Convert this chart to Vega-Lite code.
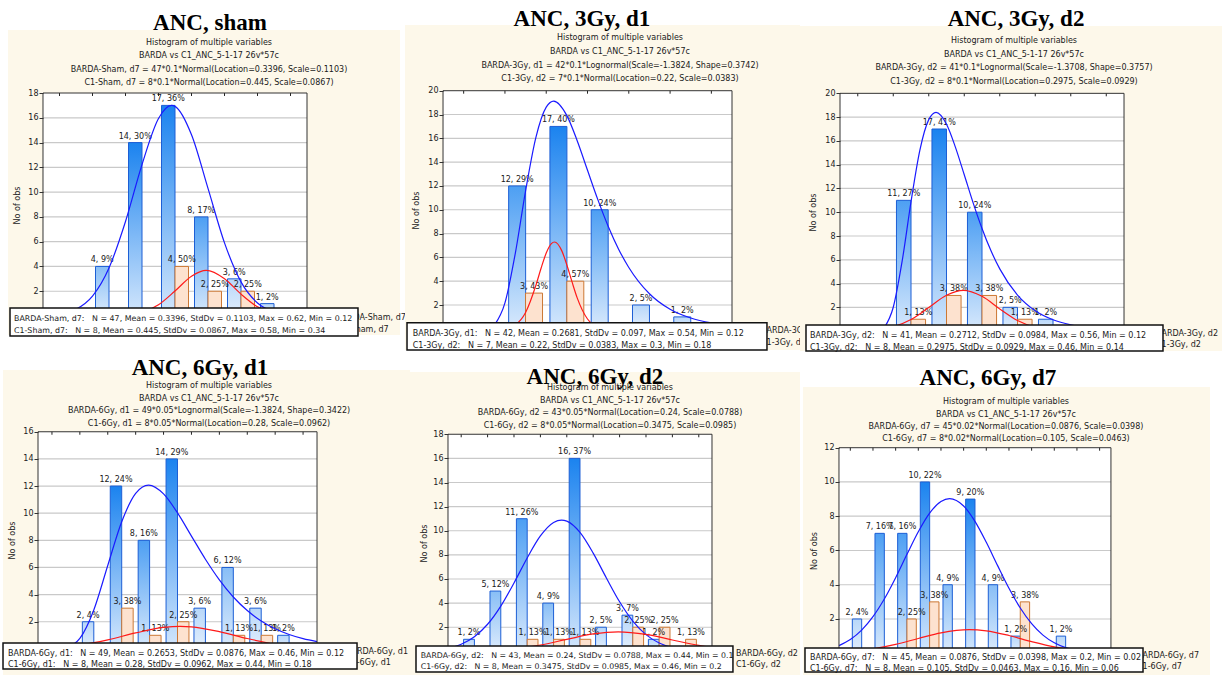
{
"$schema": "https://vega.github.io/schema/vega-lite/v6.json",
"padding": 0,
"background": "white",
"config": {
  "view": {"stroke": null},
  "axisX": {"disable": true},
  "axisY": {"grid": false, "domain": false, "ticks": true, "tickSize": 4, "tickColor": "#333333", "labelFont": "DejaVu Sans", "labelFontSize": 8, "labelColor": "#222222", "labelPadding": 1, "labelOverlap": false, "titleFont": "DejaVu Sans", "titleFontSize": 8, "titleFontWeight": "normal", "titleColor": "#222222", "titleAngle": -90, "titleAlign": "center", "titleBaseline": "middle"},
  "text": {"font": "DejaVu Sans", "fontSize": 8, "color": "#1a1a1a"}
},
"datasets": {
  "grid16": [{"v":2},{"v":4},{"v":6},{"v":8},{"v":10},{"v":12},{"v":14},{"v":16}],
  "grid18": [{"v":2},{"v":4},{"v":6},{"v":8},{"v":10},{"v":12},{"v":14},{"v":16},{"v":18}],
  "grid14": [{"v":2},{"v":4},{"v":6},{"v":8},{"v":10},{"v":12},{"v":14}],
  "grid10": [{"v":2},{"v":4},{"v":6},{"v":8},{"v":10}],
  "edges_p1": [{"e":0},{"e":0.1},{"e":0.2},{"e":0.3},{"e":0.4},{"e":0.5},{"e":0.6},{"e":0.7}],
  "edges_p2": [{"e":0},{"e":0.1},{"e":0.2},{"e":0.3},{"e":0.4},{"e":0.5},{"e":0.6}],
  "edges_p4": [{"e":0.05},{"e":0.1},{"e":0.15},{"e":0.2},{"e":0.25},{"e":0.3},{"e":0.35},{"e":0.4},{"e":0.45},{"e":0.5}],
  "edges_p6": [{"e":0},{"e":0.02},{"e":0.04},{"e":0.06},{"e":0.08},{"e":0.1},{"e":0.12},{"e":0.14},{"e":0.16},{"e":0.18},{"e":0.2},{"e":0.22}],
  "p1_barda": [{"lo":0.1,"hi":0.2,"n":4,"label":"4, 9%"},{"lo":0.2,"hi":0.3,"n":14,"label":"14, 30%"},{"lo":0.3,"hi":0.4,"n":17,"label":"17, 36%"},{"lo":0.4,"hi":0.5,"n":8,"label":"8, 17%"},{"lo":0.5,"hi":0.6,"n":3,"label":"3, 6%"},{"lo":0.6,"hi":0.7,"n":1,"label":"1, 2%"}],
  "p1_c1": [{"lo":0.3,"hi":0.4,"n":4,"label":"4, 50%"},{"lo":0.4,"hi":0.5,"n":2,"label":"2, 25%"},{"lo":0.5,"hi":0.6,"n":2,"label":"2, 25%"}],
  "p1_blue": [{"x":-0.05,"y":0.033},{"x":0,"y":0.149},{"x":0.05,"y":0.541},{"x":0.1,"y":1.607},{"x":0.15,"y":3.88},{"x":0.2,"y":7.63},{"x":0.25,"y":12.22},{"x":0.3,"y":15.94},{"x":0.3396,"y":17.0},{"x":0.35,"y":16.92},{"x":0.4,"y":14.63},{"x":0.45,"y":10.3},{"x":0.5,"y":5.906},{"x":0.55,"y":2.757},{"x":0.6,"y":1.048},{"x":0.65,"y":0.324},{"x":0.7,"y":0.082},{"x":0.75,"y":0.017}],
  "p1_red": [{"x":0.2,"y":0.068},{"x":0.25,"y":0.293},{"x":0.3,"y":0.909},{"x":0.35,"y":2.02},{"x":0.4,"y":3.217},{"x":0.445,"y":3.681},{"x":0.5,"y":3.01},{"x":0.55,"y":1.768},{"x":0.6,"y":0.745},{"x":0.65,"y":0.225},{"x":0.7,"y":0.049}],
  "p2_barda": [{"lo":0.1,"hi":0.2,"n":12,"label":"12, 29%"},{"lo":0.2,"hi":0.3,"n":17,"label":"17, 40%"},{"lo":0.3,"hi":0.4,"n":10,"label":"10, 24%"},{"lo":0.4,"hi":0.5,"n":2,"label":"2, 5%"},{"lo":0.5,"hi":0.6,"n":1,"label":"1, 2%"}],
  "p2_c1": [{"lo":0.1,"hi":0.2,"n":3,"label":"3, 43%"},{"lo":0.2,"hi":0.3,"n":4,"label":"4, 57%"}],
  "p2_blue": [{"x":0.075,"y":0.326},{"x":0.1,"y":2.178},{"x":0.125,"y":6.32},{"x":0.15,"y":11.59},{"x":0.175,"y":16.08},{"x":0.2,"y":18.62},{"x":0.2182,"y":19.13},{"x":0.25,"y":17.91},{"x":0.275,"y":15.8},{"x":0.3,"y":13.32},{"x":0.325,"y":10.85},{"x":0.35,"y":8.62},{"x":0.375,"y":6.71},{"x":0.4,"y":5.154},{"x":0.45,"y":2.945},{"x":0.5,"y":1.641},{"x":0.55,"y":0.904},{"x":0.6,"y":0.495},{"x":0.65,"y":0.271}],
  "p2_red": [{"x":0.1,"y":0.054},{"x":0.125,"y":0.336},{"x":0.15,"y":1.372},{"x":0.175,"y":3.655},{"x":0.1875,"y":5.086},{"x":0.2,"y":6.361},{"x":0.2125,"y":7.152},{"x":0.22,"y":7.29},{"x":0.2375,"y":6.568},{"x":0.25,"y":5.364},{"x":0.2625,"y":3.939},{"x":0.275,"y":2.6},{"x":0.3,"y":0.823},{"x":0.325,"y":0.17},{"x":0.35,"y":0.023}],
  "p3_barda": [{"lo":0.1,"hi":0.2,"n":11,"label":"11, 27%"},{"lo":0.2,"hi":0.3,"n":17,"label":"17, 41%"},{"lo":0.3,"hi":0.4,"n":10,"label":"10, 24%"},{"lo":0.4,"hi":0.5,"n":2,"label":"2, 5%"},{"lo":0.5,"hi":0.6,"n":1,"label":"1, 2%"}],
  "p3_c1": [{"lo":0.1,"hi":0.2,"n":1,"label":"1, 13%"},{"lo":0.2,"hi":0.3,"n":3,"label":"3, 38%"},{"lo":0.3,"hi":0.4,"n":3,"label":"3, 38%"},{"lo":0.4,"hi":0.5,"n":1,"label":"1, 13%"}],
  "p3_blue": [{"x":0.075,"y":0.299},{"x":0.1,"y":2.01},{"x":0.125,"y":5.883},{"x":0.15,"y":10.88},{"x":0.175,"y":15.23},{"x":0.2,"y":17.79},{"x":0.2205,"y":18.4},{"x":0.25,"y":17.4},{"x":0.275,"y":15.48},{"x":0.3,"y":13.15},{"x":0.325,"y":10.79},{"x":0.35,"y":8.635},{"x":0.375,"y":6.773},{"x":0.4,"y":5.236},{"x":0.45,"y":3.032},{"x":0.5,"y":1.711},{"x":0.55,"y":0.953},{"x":0.6,"y":0.528},{"x":0.65,"y":0.293},{"x":0.7,"y":0.163},{"x":0.75,"y":0.091}],
  "p3_red": [{"x":0,"y":0.02},{"x":0.05,"y":0.099},{"x":0.1,"y":0.359},{"x":0.15,"y":0.974},{"x":0.2,"y":1.98},{"x":0.25,"y":3.014},{"x":0.2975,"y":3.435},{"x":0.35,"y":2.928},{"x":0.4,"y":1.869},{"x":0.45,"y":0.893},{"x":0.5,"y":0.319},{"x":0.55,"y":0.085},{"x":0.6,"y":0.017}],
  "p4_barda": [{"lo":0.1,"hi":0.15,"n":2,"label":"2, 4%"},{"lo":0.15,"hi":0.2,"n":12,"label":"12, 24%"},{"lo":0.2,"hi":0.25,"n":8,"label":"8, 16%"},{"lo":0.25,"hi":0.3,"n":14,"label":"14, 29%"},{"lo":0.3,"hi":0.35,"n":3,"label":"3, 6%"},{"lo":0.35,"hi":0.4,"n":6,"label":"6, 12%"},{"lo":0.4,"hi":0.45,"n":3,"label":"3, 6%"},{"lo":0.45,"hi":0.5,"n":1,"label":"1, 2%"}],
  "p4_c1": [{"lo":0.15,"hi":0.2,"n":3,"label":"3, 38%"},{"lo":0.2,"hi":0.25,"n":1,"label":"1, 13%"},{"lo":0.25,"hi":0.3,"n":2,"label":"2, 25%"},{"lo":0.35,"hi":0.4,"n":1,"label":"1, 13%"},{"lo":0.4,"hi":0.45,"n":1,"label":"1, 13%"}],
  "p4_blue": [{"x":0.075,"y":0.075},{"x":0.1,"y":0.768},{"x":0.125,"y":2.87},{"x":0.15,"y":6.145},{"x":0.175,"y":9.368},{"x":0.2,"y":11.46},{"x":0.2232,"y":12.07},{"x":0.25,"y":11.42},{"x":0.275,"y":10.02},{"x":0.3,"y":8.311},{"x":0.325,"y":6.607},{"x":0.35,"y":5.089},{"x":0.375,"y":3.825},{"x":0.4,"y":2.824},{"x":0.425,"y":2.056},{"x":0.45,"y":1.48},{"x":0.475,"y":1.058},{"x":0.5,"y":0.751},{"x":0.525,"y":0.532}],
  "p4_red": [{"x":0.025,"y":0.049},{"x":0.05,"y":0.095},{"x":0.1,"y":0.288},{"x":0.15,"y":0.666},{"x":0.2,"y":1.174},{"x":0.25,"y":1.58},{"x":0.28,"y":1.659},{"x":0.3,"y":1.624},{"x":0.35,"y":1.273},{"x":0.4,"y":0.762},{"x":0.45,"y":0.348},{"x":0.5,"y":0.121},{"x":0.525,"y":0.065}],
  "p5_barda": [{"lo":0.05,"hi":0.1,"n":1,"label":"1, 2%"},{"lo":0.1,"hi":0.15,"n":5,"label":"5, 12%"},{"lo":0.15,"hi":0.2,"n":11,"label":"11, 26%"},{"lo":0.2,"hi":0.25,"n":4,"label":"4, 9%"},{"lo":0.25,"hi":0.3,"n":16,"label":"16, 37%"},{"lo":0.3,"hi":0.35,"n":2,"label":"2, 5%"},{"lo":0.35,"hi":0.4,"n":3,"label":"3, 7%"},{"lo":0.4,"hi":0.45,"n":1,"label":"1, 2%"}],
  "p5_c1": [{"lo":0.15,"hi":0.2,"n":1,"label":"1, 13%"},{"lo":0.2,"hi":0.25,"n":1,"label":"1, 13%"},{"lo":0.25,"hi":0.3,"n":1,"label":"1, 13%"},{"lo":0.35,"hi":0.4,"n":2,"label":"2, 25%"},{"lo":0.4,"hi":0.45,"n":2,"label":"2, 25%"},{"lo":0.45,"hi":0.5,"n":1,"label":"1, 13%"}],
  "p5_blue": [{"x":0.025,"y":0.263},{"x":0.05,"y":0.595},{"x":0.075,"y":1.216},{"x":0.1,"y":2.247},{"x":0.125,"y":3.753},{"x":0.15,"y":5.67},{"x":0.175,"y":7.746},{"x":0.2,"y":9.569},{"x":0.225,"y":10.689},{"x":0.24,"y":10.885},{"x":0.25,"y":10.798},{"x":0.275,"y":9.863},{"x":0.3,"y":8.146},{"x":0.325,"y":6.084},{"x":0.35,"y":4.109},{"x":0.375,"y":2.509},{"x":0.4,"y":1.386},{"x":0.425,"y":0.692},{"x":0.45,"y":0.312},{"x":0.475,"y":0.128},{"x":0.5,"y":0.047},{"x":0.525,"y":0.016}],
  "p5_red": [{"x":0.025,"y":0.008},{"x":0.05,"y":0.017},{"x":0.1,"y":0.069},{"x":0.15,"y":0.217},{"x":0.2,"y":0.528},{"x":0.25,"y":0.993},{"x":0.3,"y":1.442},{"x":0.3475,"y":1.62},{"x":0.4,"y":1.406},{"x":0.45,"y":0.943},{"x":0.5,"y":0.489},{"x":0.525,"y":0.319}],
  "p6_barda": [{"lo":0,"hi":0.02,"n":2,"label":"2, 4%"},{"lo":0.02,"hi":0.04,"n":7,"label":"7, 16%"},{"lo":0.04,"hi":0.06,"n":7,"label":"7, 16%"},{"lo":0.06,"hi":0.08,"n":10,"label":"10, 22%"},{"lo":0.08,"hi":0.1,"n":4,"label":"4, 9%"},{"lo":0.1,"hi":0.12,"n":9,"label":"9, 20%"},{"lo":0.12,"hi":0.14,"n":4,"label":"4, 9%"},{"lo":0.14,"hi":0.16,"n":1,"label":"1, 2%"},{"lo":0.18,"hi":0.2,"n":1,"label":"1, 2%"}],
  "p6_c1": [{"lo":0.04,"hi":0.06,"n":2,"label":"2, 25%"},{"lo":0.06,"hi":0.08,"n":3,"label":"3, 38%"},{"lo":0.14,"hi":0.16,"n":3,"label":"3, 38%"}],
  "p6_blue": [{"x":-0.01,"y":0.446},{"x":0,"y":0.801},{"x":0.01,"y":1.349},{"x":0.02,"y":2.133},{"x":0.03,"y":3.166},{"x":0.04,"y":4.413},{"x":0.05,"y":5.775},{"x":0.06,"y":7.094},{"x":0.07,"y":8.182},{"x":0.08,"y":8.859},{"x":0.0876,"y":9.022},{"x":0.1,"y":8.594},{"x":0.11,"y":7.7},{"x":0.12,"y":6.477},{"x":0.13,"y":5.116},{"x":0.14,"y":3.792},{"x":0.15,"y":2.64},{"x":0.16,"y":1.725},{"x":0.17,"y":1.058},{"x":0.18,"y":0.609},{"x":0.19,"y":0.329},{"x":0.2,"y":0.167},{"x":0.21,"y":0.08},{"x":0.22,"y":0.036},{"x":0.23,"y":0.015}],
  "p6_red": [{"x":-0.01,"y":0.063},{"x":0,"y":0.105},{"x":0.02,"y":0.256},{"x":0.04,"y":0.515},{"x":0.06,"y":0.86},{"x":0.08,"y":1.192},{"x":0.105,"y":1.379},{"x":0.12,"y":1.308},{"x":0.14,"y":1.036},{"x":0.16,"y":0.681},{"x":0.18,"y":0.371},{"x":0.2,"y":0.168},{"x":0.22,"y":0.063},{"x":0.23,"y":0.036}]
},
"columns": 3,
"spacing": 0,
"bounds": "flush",
"concat": [
{
"width": 400, "height": 335,
"layer": [
 {"data": {"values": [{}]}, "mark": {"type": "rect", "fill": "#fdf8ea"},
  "encoding": {"x": {"datum": -0.156, "type": "quantitative", "scale": {"domain": [-0.1803, 1.0318], "nice": false, "zero": false}}, "x2": {"datum": 1.0318},
   "y": {"datum": -1.533, "type": "quantitative", "scale": {"domain": [-1.533, 25.507], "nice": false, "zero": false}, "axis": {"values": [2,4,6,8,10,12,14,16,18], "tickCount": 20, "labelOverlap": false, "offset": -43, "zindex": 2, "title": "No of obs", "titleX": -26, "titleY": 205}}, "y2": {"datum": 23.086}}},
 {"data": {"values": [{}]}, "mark": {"type": "rect", "fill": "#ffffff"},
  "encoding": {"x": {"datum": -0.05, "type": "quantitative"}, "x2": {"datum": 0.75}, "y": {"datum": 0, "type": "quantitative"}, "y2": {"datum": 18}}},
 {"data": {"name": "grid16"}, "mark": {"type": "rule", "stroke": "#c9c9c9", "strokeWidth": 1.2},
  "encoding": {"x": {"datum": -0.05, "type": "quantitative"}, "x2": {"datum": 0.75}, "y": {"field": "v", "type": "quantitative"}}},
 {"data": {"name": "edges_p1"}, "mark": {"type": "rule", "stroke": "#222222", "strokeWidth": 1},
  "encoding": {"x": {"field": "e", "type": "quantitative"}, "y": {"datum": 18, "type": "quantitative"}, "y2": {"datum": 17.76}}},
 {"data": {"name": "p1_barda"}, "mark": {"type": "rect", "stroke": "#1d5fd5", "strokeWidth": 1, "xOffset": 3, "x2Offset": -16.5},
  "encoding": {"x": {"field": "lo", "type": "quantitative"}, "x2": {"field": "hi"}, "y": {"field": "n", "type": "quantitative"}, "y2": {"datum": 0},
   "fill": {"condition": [
     {"test": "datum.n >= 14", "value": {"gradient": "linear", "x1": 0, "y1": 0, "x2": 0, "y2": 1, "stops": [{"offset": 0, "color": "#1b83ef"}, {"offset": 1, "color": "#d4e7fc"}]}},
     {"test": "datum.n >= 8", "value": {"gradient": "linear", "x1": 0, "y1": 0, "x2": 0, "y2": 1, "stops": [{"offset": 0, "color": "#4d9ff3"}, {"offset": 1, "color": "#d8e9fc"}]}},
     {"test": "datum.n >= 4", "value": {"gradient": "linear", "x1": 0, "y1": 0, "x2": 0, "y2": 1, "stops": [{"offset": 0, "color": "#88bef6"}, {"offset": 1, "color": "#dcebfc"}]}}],
    "value": {"gradient": "linear", "x1": 0, "y1": 0, "x2": 0, "y2": 1, "stops": [{"offset": 0, "color": "#b8d7f9"}, {"offset": 1, "color": "#e3effd"}]}}}},
 {"data": {"name": "p1_c1"}, "mark": {"type": "rect", "fill": "#fde2cf", "stroke": "#cc7834", "strokeWidth": 1, "xOffset": 16.5, "x2Offset": -3},
  "encoding": {"x": {"field": "lo", "type": "quantitative"}, "x2": {"field": "hi"}, "y": {"field": "n", "type": "quantitative"}, "y2": {"datum": 0}}},
 {"data": {"name": "p1_barda"}, "mark": {"type": "text", "dx": 9.7, "dy": -2, "baseline": "bottom", "align": "center"},
  "encoding": {"x": {"field": "lo", "type": "quantitative"}, "y": {"field": "n", "type": "quantitative"}, "text": {"field": "label"}}},
 {"data": {"name": "p1_c1"}, "mark": {"type": "text", "dx": 23.3, "dy": -2, "baseline": "bottom", "align": "center"},
  "encoding": {"x": {"field": "lo", "type": "quantitative"}, "y": {"field": "n", "type": "quantitative"}, "text": {"field": "label"}}},
 {"data": {"name": "p1_blue"}, "mark": {"type": "line", "interpolate": "monotone", "stroke": "#1a1aff", "strokeWidth": 1.2},
  "encoding": {"x": {"field": "x", "type": "quantitative"}, "y": {"field": "y", "type": "quantitative"}}},
 {"data": {"name": "p1_red"}, "mark": {"type": "line", "interpolate": "monotone", "stroke": "#ff1a1a", "strokeWidth": 1.2},
  "encoding": {"x": {"field": "x", "type": "quantitative"}, "y": {"field": "y", "type": "quantitative"}}},
 {"data": {"values": [{}]}, "mark": {"type": "rect", "fill": "#ffffff", "fillOpacity": 0, "stroke": "#333333", "strokeWidth": 1},
  "encoding": {"x": {"datum": -0.05, "type": "quantitative"}, "x2": {"datum": 0.75}, "y": {"datum": 0, "type": "quantitative"}, "y2": {"datum": 18}}},
 {"data": {"values": [{}]}, "mark": {"type": "text", "align": "left", "lineHeight": 12},
  "encoding": {"x": {"datum": 0.8409, "type": "quantitative"}, "y": {"datum": -0.161, "type": "quantitative"}, "text": {"value": ["BARDA-Sham, d7", "C1-Sham, d7"]}}},
 {"data": {"values": [{}]}, "mark": {"type": "rect", "fill": "#ffffff", "stroke": "#111111", "strokeWidth": 1.5},
  "encoding": {"x": {"datum": -0.15, "type": "quantitative"}, "x2": {"datum": 0.9045}, "y": {"datum": 0.646, "type": "quantitative"}, "y2": {"datum": -1.614}}},
 {"data": {"values": [{}]}, "mark": {"type": "text", "align": "left", "fontSize": 7.9, "lineHeight": 12},
  "encoding": {"x": {"datum": -0.1379, "type": "quantitative"}, "y": {"datum": -0.242, "type": "quantitative"}, "text": {"value": ["BARDA-Sham, d7:\u00a0\u00a0 N = 47, Mean = 0.3396, StdDv = 0.1103, Max = 0.62, Min = 0.12", "C1-Sham, d7:\u00a0\u00a0 N = 8, Mean = 0.445, StdDv = 0.0867, Max = 0.58, Min = 0.34"]}}},
 {"data": {"values": [{}]}, "mark": {"type": "text", "align": "center", "font": "Liberation Serif", "fontSize": 23, "fontWeight": "bold", "color": "#000000"},
  "encoding": {"x": {"datum": 0.456, "type": "quantitative"}, "y": {"datum": 23.65, "type": "quantitative"}, "text": {"value": "ANC, sham"}}},
 {"data": {"values": [{}]}, "mark": {"type": "text", "align": "center", "lineHeight": 13.3},
  "encoding": {"x": {"datum": 0.453, "type": "quantitative"}, "y": {"datum": 22.03, "type": "quantitative"}, "text": {"value": ["Histogram of multiple variables", "BARDA vs C1_ANC_5-1-17 26v*57c", "BARDA-Sham, d7 = 47*0.1*Normal(Location=0.3396, Scale=0.1103)", "C1-Sham, d7 = 8*0.1*Normal(Location=0.445, Scale=0.0867)"]}}}
]
},
{
"width": 400, "height": 335,
"layer": [
 {"data": {"values": [{}]}, "mark": {"type": "rect", "fill": "#fdf8ea"},
  "encoding": {"x": {"datum": -0.1421, "type": "quantitative", "scale": {"domain": [-0.1542, 0.8147], "nice": false, "zero": false}}, "x2": {"datum": 0.8147},
   "y": {"datum": -1.78, "type": "quantitative", "scale": {"domain": [-0.52, 27.62], "nice": false, "zero": false}, "axis": {"values": [2,4,6,8,10,12,14,16,18,20], "tickCount": 20, "labelOverlap": false, "offset": -43, "zindex": 2, "title": "No of obs", "titleX": -26.3, "titleY": 210}}, "y2": {"datum": 25.52}}},
 {"data": {"values": [{}]}, "mark": {"type": "rect", "fill": "#ffffff"},
  "encoding": {"x": {"datum": -0.05, "type": "quantitative"}, "x2": {"datum": 0.65}, "y": {"datum": 0, "type": "quantitative"}, "y2": {"datum": 20}}},
 {"data": {"name": "grid18"}, "mark": {"type": "rule", "stroke": "#c9c9c9", "strokeWidth": 1.2},
  "encoding": {"x": {"datum": -0.05, "type": "quantitative"}, "x2": {"datum": 0.65}, "y": {"field": "v", "type": "quantitative"}}},
 {"data": {"name": "edges_p2"}, "mark": {"type": "rule", "stroke": "#222222", "strokeWidth": 1},
  "encoding": {"x": {"field": "e", "type": "quantitative"}, "y": {"datum": 20, "type": "quantitative"}, "y2": {"datum": 19.75}}},
 {"data": {"name": "p2_barda"}, "mark": {"type": "rect", "stroke": "#1d5fd5", "strokeWidth": 1, "xOffset": 3.7, "x2Offset": -20.6},
  "encoding": {"x": {"field": "lo", "type": "quantitative"}, "x2": {"field": "hi"}, "y": {"field": "n", "type": "quantitative"}, "y2": {"datum": 0},
   "fill": {"condition": [
     {"test": "datum.n >= 14", "value": {"gradient": "linear", "x1": 0, "y1": 0, "x2": 0, "y2": 1, "stops": [{"offset": 0, "color": "#1b83ef"}, {"offset": 1, "color": "#d4e7fc"}]}},
     {"test": "datum.n >= 8", "value": {"gradient": "linear", "x1": 0, "y1": 0, "x2": 0, "y2": 1, "stops": [{"offset": 0, "color": "#4d9ff3"}, {"offset": 1, "color": "#d8e9fc"}]}},
     {"test": "datum.n >= 4", "value": {"gradient": "linear", "x1": 0, "y1": 0, "x2": 0, "y2": 1, "stops": [{"offset": 0, "color": "#88bef6"}, {"offset": 1, "color": "#dcebfc"}]}}],
    "value": {"gradient": "linear", "x1": 0, "y1": 0, "x2": 0, "y2": 1, "stops": [{"offset": 0, "color": "#b8d7f9"}, {"offset": 1, "color": "#e3effd"}]}}}},
 {"data": {"name": "p2_c1"}, "mark": {"type": "rect", "fill": "#fde2cf", "stroke": "#cc7834", "strokeWidth": 1, "xOffset": 20.6, "x2Offset": -3.7},
  "encoding": {"x": {"field": "lo", "type": "quantitative"}, "x2": {"field": "hi"}, "y": {"field": "n", "type": "quantitative"}, "y2": {"datum": 0}}},
 {"data": {"name": "p2_barda"}, "mark": {"type": "text", "dx": 12.2, "dy": -2, "baseline": "bottom", "align": "center"},
  "encoding": {"x": {"field": "lo", "type": "quantitative"}, "y": {"field": "n", "type": "quantitative"}, "text": {"field": "label"}}},
 {"data": {"name": "p2_c1"}, "mark": {"type": "text", "dx": 29.1, "dy": -2, "baseline": "bottom", "align": "center"},
  "encoding": {"x": {"field": "lo", "type": "quantitative"}, "y": {"field": "n", "type": "quantitative"}, "text": {"field": "label"}}},
 {"data": {"name": "p2_blue"}, "mark": {"type": "line", "interpolate": "monotone", "stroke": "#1a1aff", "strokeWidth": 1.2},
  "encoding": {"x": {"field": "x", "type": "quantitative"}, "y": {"field": "y", "type": "quantitative"}}},
 {"data": {"name": "p2_red"}, "mark": {"type": "line", "interpolate": "monotone", "stroke": "#ff1a1a", "strokeWidth": 1.2},
  "encoding": {"x": {"field": "x", "type": "quantitative"}, "y": {"field": "y", "type": "quantitative"}}},
 {"data": {"values": [{}]}, "mark": {"type": "rect", "fill": "#ffffff", "fillOpacity": 0, "stroke": "#333333", "strokeWidth": 1},
  "encoding": {"x": {"datum": -0.05, "type": "quantitative"}, "x2": {"datum": 0.65}, "y": {"datum": 0, "type": "quantitative"}, "y2": {"datum": 20}}},
 {"data": {"values": [{}]}, "mark": {"type": "text", "align": "left", "lineHeight": 12.5},
  "encoding": {"x": {"datum": 0.7202, "type": "quantitative"}, "y": {"datum": -0.18, "type": "quantitative"}, "text": {"value": ["BARDA-3Gy, d1", "C1-3Gy, d2"]}}},
 {"data": {"values": [{}]}, "mark": {"type": "rect", "fill": "#ffffff", "stroke": "#111111", "strokeWidth": 1.5},
  "encoding": {"x": {"datum": -0.1372, "type": "quantitative"}, "x2": {"datum": 0.7347}, "y": {"datum": 0.514, "type": "quantitative"}, "y2": {"datum": -1.78}}},
 {"data": {"values": [{}]}, "mark": {"type": "text", "align": "left", "fontSize": 8, "lineHeight": 11.7},
  "encoding": {"x": {"datum": -0.1234, "type": "quantitative"}, "y": {"datum": -0.435, "type": "quantitative"}, "text": {"value": ["BARDA-3Gy, d1:\u00a0\u00a0 N = 42, Mean = 0.2681, StdDv = 0.097, Max = 0.54, Min = 0.12", "C1-3Gy, d2:\u00a0\u00a0 N = 7, Mean = 0.22, StdDv = 0.0383, Max = 0.3, Min = 0.18"]}}},
 {"data": {"values": [{}]}, "mark": {"type": "text", "align": "center", "font": "Liberation Serif", "fontSize": 23, "fontWeight": "bold", "color": "#000000"},
  "encoding": {"x": {"datum": 0.2866, "type": "quantitative"}, "y": {"datum": 26.066, "type": "quantitative"}, "text": {"value": "ANC, 3Gy, d1"}}},
 {"data": {"values": [{}]}, "mark": {"type": "text", "align": "center", "lineHeight": 13.8},
  "encoding": {"x": {"datum": 0.3787, "type": "quantitative"}, "y": {"datum": 24.42, "type": "quantitative"}, "text": {"value": ["Histogram of multiple variables", "BARDA vs C1_ANC_5-1-17 26v*57c", "BARDA-3Gy, d1 = 42*0.1*Lognormal(Scale=-1.3824, Shape=0.3742)", "C1-3Gy, d2 = 7*0.1*Normal(Location=0.22, Scale=0.0383)"]}}}
]
},
{
"width": 422, "height": 335,
"layer": [
 {"data": {"values": [{}]}, "mark": {"type": "rect", "fill": "#fdf8ea"},
  "encoding": {"x": {"datum": -0.1627, "type": "quantitative", "scale": {"domain": [-0.1627, 1.026], "nice": false, "zero": false}}, "x2": {"datum": 1.026},
   "y": {"datum": -1.67, "type": "quantitative", "scale": {"domain": [-0.325, 27.85], "nice": false, "zero": false}, "axis": {"values": [2,4,6,8,10,12,14,16,18,20], "tickCount": 20, "labelOverlap": false, "offset": -40, "zindex": 2, "title": "No of obs", "titleX": -27, "titleY": 212}}, "y2": {"datum": 25.66}}},
 {"data": {"values": [{}]}, "mark": {"type": "rect", "fill": "#ffffff"},
  "encoding": {"x": {"datum": -0.05, "type": "quantitative"}, "x2": {"datum": 0.75}, "y": {"datum": 0, "type": "quantitative"}, "y2": {"datum": 20}}},
 {"data": {"name": "grid18"}, "mark": {"type": "rule", "stroke": "#c9c9c9", "strokeWidth": 1.2},
  "encoding": {"x": {"datum": -0.05, "type": "quantitative"}, "x2": {"datum": 0.75}, "y": {"field": "v", "type": "quantitative"}}},
 {"data": {"name": "edges_p1"}, "mark": {"type": "rule", "stroke": "#222222", "strokeWidth": 1},
  "encoding": {"x": {"field": "e", "type": "quantitative"}, "y": {"datum": 20, "type": "quantitative"}, "y2": {"datum": 19.75}}},
 {"data": {"name": "p3_barda"}, "mark": {"type": "rect", "stroke": "#1d5fd5", "strokeWidth": 1, "xOffset": 3.2, "x2Offset": -17.75},
  "encoding": {"x": {"field": "lo", "type": "quantitative"}, "x2": {"field": "hi"}, "y": {"field": "n", "type": "quantitative"}, "y2": {"datum": 0},
   "fill": {"condition": [
     {"test": "datum.n >= 14", "value": {"gradient": "linear", "x1": 0, "y1": 0, "x2": 0, "y2": 1, "stops": [{"offset": 0, "color": "#1b83ef"}, {"offset": 1, "color": "#d4e7fc"}]}},
     {"test": "datum.n >= 8", "value": {"gradient": "linear", "x1": 0, "y1": 0, "x2": 0, "y2": 1, "stops": [{"offset": 0, "color": "#4d9ff3"}, {"offset": 1, "color": "#d8e9fc"}]}},
     {"test": "datum.n >= 4", "value": {"gradient": "linear", "x1": 0, "y1": 0, "x2": 0, "y2": 1, "stops": [{"offset": 0, "color": "#88bef6"}, {"offset": 1, "color": "#dcebfc"}]}}],
    "value": {"gradient": "linear", "x1": 0, "y1": 0, "x2": 0, "y2": 1, "stops": [{"offset": 0, "color": "#b8d7f9"}, {"offset": 1, "color": "#e3effd"}]}}}},
 {"data": {"name": "p3_c1"}, "mark": {"type": "rect", "fill": "#fde2cf", "stroke": "#cc7834", "strokeWidth": 1, "xOffset": 17.75, "x2Offset": -3.2},
  "encoding": {"x": {"field": "lo", "type": "quantitative"}, "x2": {"field": "hi"}, "y": {"field": "n", "type": "quantitative"}, "y2": {"datum": 0}}},
 {"data": {"name": "p3_barda"}, "mark": {"type": "text", "dx": 10.5, "dy": -2, "baseline": "bottom", "align": "center"},
  "encoding": {"x": {"field": "lo", "type": "quantitative"}, "y": {"field": "n", "type": "quantitative"}, "text": {"field": "label"}}},
 {"data": {"name": "p3_c1"}, "mark": {"type": "text", "dx": 25.0, "dy": -2, "baseline": "bottom", "align": "center"},
  "encoding": {"x": {"field": "lo", "type": "quantitative"}, "y": {"field": "n", "type": "quantitative"}, "text": {"field": "label"}}},
 {"data": {"name": "p3_blue"}, "mark": {"type": "line", "interpolate": "monotone", "stroke": "#1a1aff", "strokeWidth": 1.2},
  "encoding": {"x": {"field": "x", "type": "quantitative"}, "y": {"field": "y", "type": "quantitative"}}},
 {"data": {"name": "p3_red"}, "mark": {"type": "line", "interpolate": "monotone", "stroke": "#ff1a1a", "strokeWidth": 1.2},
  "encoding": {"x": {"field": "x", "type": "quantitative"}, "y": {"field": "y", "type": "quantitative"}}},
 {"data": {"values": [{}]}, "mark": {"type": "rect", "fill": "#ffffff", "fillOpacity": 0, "stroke": "#333333", "strokeWidth": 1},
  "encoding": {"x": {"datum": -0.05, "type": "quantitative"}, "x2": {"datum": 0.75}, "y": {"datum": 0, "type": "quantitative"}, "y2": {"datum": 20}}},
 {"data": {"values": [{}]}, "mark": {"type": "text", "align": "left", "lineHeight": 11.5},
  "encoding": {"x": {"datum": 0.8401, "type": "quantitative"}, "y": {"datum": -0.24, "type": "quantitative"}, "text": {"value": ["BARDA-3Gy, d2", "C1-3Gy, d2"]}}},
 {"data": {"values": [{}]}, "mark": {"type": "rect", "fill": "#ffffff", "stroke": "#111111", "strokeWidth": 1.5},
  "encoding": {"x": {"datum": -0.1458, "type": "quantitative"}, "x2": {"datum": 0.8598}, "y": {"datum": 0.516, "type": "quantitative"}, "y2": {"datum": -1.67}}},
 {"data": {"values": [{}]}, "mark": {"type": "text", "align": "left", "fontSize": 8, "lineHeight": 12},
  "encoding": {"x": {"datum": -0.1345, "type": "quantitative"}, "y": {"datum": -0.409, "type": "quantitative"}, "text": {"value": ["BARDA-3Gy, d2:\u00a0\u00a0 N = 41, Mean = 0.2712, StdDv = 0.0984, Max = 0.56, Min = 0.12", "C1-3Gy, d2:\u00a0\u00a0 N = 8, Mean = 0.2975, StdDv = 0.0929, Max = 0.46, Min = 0.14"]}}},
 {"data": {"values": [{}]}, "mark": {"type": "text", "align": "center", "font": "Liberation Serif", "fontSize": 23, "fontWeight": "bold", "color": "#000000"},
  "encoding": {"x": {"datum": 0.4458, "type": "quantitative"}, "y": {"datum": 26.294, "type": "quantitative"}, "text": {"value": "ANC, 3Gy, d2"}}},
 {"data": {"values": [{}]}, "mark": {"type": "text", "align": "center", "lineHeight": 13.7},
  "encoding": {"x": {"datum": 0.4401, "type": "quantitative"}, "y": {"datum": 24.4, "type": "quantitative"}, "text": {"value": ["Histogram of multiple variables", "BARDA vs C1_ANC_5-1-17 26v*57c", "BARDA-3Gy, d2 = 41*0.1*Lognormal(Scale=-1.3708, Shape=0.3757)", "C1-3Gy, d2 = 8*0.1*Normal(Location=0.2975, Scale=0.0929)"]}}}
]
},
{
"width": 400, "height": 340,
"layer": [
 {"data": {"values": [{}]}, "mark": {"type": "rect", "fill": "#fdf8ea"},
  "encoding": {"x": {"datum": -0.0377, "type": "quantitative", "scale": {"domain": [-0.0431, 0.6737], "nice": false, "zero": false}}, "x2": {"datum": 0.6917},
   "y": {"datum": -1.925, "type": "quantitative", "scale": {"domain": [-1.925, 23.13], "nice": false, "zero": false}, "axis": {"values": [2,4,6,8,10,12,14,16], "tickCount": 20, "labelOverlap": false, "offset": -38, "zindex": 2, "title": "No of obs", "titleX": -25.3, "titleY": 205}}, "y2": {"datum": 20.551}}},
 {"data": {"values": [{}]}, "mark": {"type": "rect", "fill": "#ffffff"},
  "encoding": {"x": {"datum": 0.025, "type": "quantitative"}, "x2": {"datum": 0.525}, "y": {"datum": 0, "type": "quantitative"}, "y2": {"datum": 16}}},
 {"data": {"name": "grid14"}, "mark": {"type": "rule", "stroke": "#c9c9c9", "strokeWidth": 1.2},
  "encoding": {"x": {"datum": 0.025, "type": "quantitative"}, "x2": {"datum": 0.525}, "y": {"field": "v", "type": "quantitative"}}},
 {"data": {"name": "edges_p4"}, "mark": {"type": "rule", "stroke": "#222222", "strokeWidth": 1},
  "encoding": {"x": {"field": "e", "type": "quantitative"}, "y": {"datum": 16, "type": "quantitative"}, "y2": {"datum": 15.78}}},
 {"data": {"name": "p4_barda"}, "mark": {"type": "rect", "stroke": "#1d5fd5", "strokeWidth": 1, "xOffset": 2.5, "x2Offset": -13.95},
  "encoding": {"x": {"field": "lo", "type": "quantitative"}, "x2": {"field": "hi"}, "y": {"field": "n", "type": "quantitative"}, "y2": {"datum": 0},
   "fill": {"condition": [
     {"test": "datum.n >= 12", "value": {"gradient": "linear", "x1": 0, "y1": 0, "x2": 0, "y2": 1, "stops": [{"offset": 0, "color": "#1b83ef"}, {"offset": 1, "color": "#d4e7fc"}]}},
     {"test": "datum.n >= 7", "value": {"gradient": "linear", "x1": 0, "y1": 0, "x2": 0, "y2": 1, "stops": [{"offset": 0, "color": "#4d9ff3"}, {"offset": 1, "color": "#d8e9fc"}]}},
     {"test": "datum.n >= 4", "value": {"gradient": "linear", "x1": 0, "y1": 0, "x2": 0, "y2": 1, "stops": [{"offset": 0, "color": "#88bef6"}, {"offset": 1, "color": "#dcebfc"}]}}],
    "value": {"gradient": "linear", "x1": 0, "y1": 0, "x2": 0, "y2": 1, "stops": [{"offset": 0, "color": "#b8d7f9"}, {"offset": 1, "color": "#e3effd"}]}}}},
 {"data": {"name": "p4_c1"}, "mark": {"type": "rect", "fill": "#fde2cf", "stroke": "#cc7834", "strokeWidth": 1, "xOffset": 13.95, "x2Offset": -2.5},
  "encoding": {"x": {"field": "lo", "type": "quantitative"}, "x2": {"field": "hi"}, "y": {"field": "n", "type": "quantitative"}, "y2": {"datum": 0}}},
 {"data": {"name": "p4_barda"}, "mark": {"type": "text", "dx": 8.2, "dy": -2, "baseline": "bottom", "align": "center"},
  "encoding": {"x": {"field": "lo", "type": "quantitative"}, "y": {"field": "n", "type": "quantitative"}, "text": {"field": "label"}}},
 {"data": {"name": "p4_c1"}, "mark": {"type": "text", "dx": 19.7, "dy": -2, "baseline": "bottom", "align": "center"},
  "encoding": {"x": {"field": "lo", "type": "quantitative"}, "y": {"field": "n", "type": "quantitative"}, "text": {"field": "label"}}},
 {"data": {"name": "p4_blue"}, "mark": {"type": "line", "interpolate": "monotone", "stroke": "#1a1aff", "strokeWidth": 1.2},
  "encoding": {"x": {"field": "x", "type": "quantitative"}, "y": {"field": "y", "type": "quantitative"}}},
 {"data": {"name": "p4_red"}, "mark": {"type": "line", "interpolate": "monotone", "stroke": "#ff1a1a", "strokeWidth": 1.2},
  "encoding": {"x": {"field": "x", "type": "quantitative"}, "y": {"field": "y", "type": "quantitative"}}},
 {"data": {"values": [{}]}, "mark": {"type": "rect", "fill": "#ffffff", "fillOpacity": 0, "stroke": "#333333", "strokeWidth": 1},
  "encoding": {"x": {"datum": 0.025, "type": "quantitative"}, "x2": {"datum": 0.525}, "y": {"datum": 0, "type": "quantitative"}, "y2": {"datum": 16}}},
 {"data": {"values": [{}]}, "mark": {"type": "text", "align": "left", "lineHeight": 11},
  "encoding": {"x": {"datum": 0.577, "type": "quantitative"}, "y": {"datum": -0.23, "type": "quantitative"}, "text": {"value": ["BARDA-6Gy, d1", "C1-6Gy, d1"]}}},
 {"data": {"values": [{}]}, "mark": {"type": "rect", "fill": "#ffffff", "stroke": "#111111", "strokeWidth": 1.5},
  "encoding": {"x": {"datum": -0.0377, "type": "quantitative"}, "x2": {"datum": 0.5967}, "y": {"datum": 0.433, "type": "quantitative"}, "y2": {"datum": -1.483}}},
 {"data": {"values": [{}]}, "mark": {"type": "text", "align": "left", "fontSize": 8, "lineHeight": 11},
  "encoding": {"x": {"datum": -0.0288, "type": "quantitative"}, "y": {"datum": -0.378, "type": "quantitative"}, "text": {"value": ["BARDA-6Gy, d1:\u00a0\u00a0 N = 49, Mean = 0.2653, StdDv = 0.0876, Max = 0.46, Min = 0.12", "C1-6Gy, d1:\u00a0\u00a0 N = 8, Mean = 0.28, StdDv = 0.0962, Max = 0.44, Min = 0.18"]}}},
 {"data": {"values": [{}]}, "mark": {"type": "text", "align": "center", "font": "Liberation Serif", "fontSize": 23, "fontWeight": "bold", "color": "#000000"},
  "encoding": {"x": {"datum": 0.3153, "type": "quantitative"}, "y": {"datum": 20.698, "type": "quantitative"}, "text": {"value": "ANC, 6Gy, d1"}}},
 {"data": {"values": [{}]}, "mark": {"type": "text", "align": "center", "lineHeight": 12.7},
  "encoding": {"x": {"datum": 0.3315, "type": "quantitative"}, "y": {"datum": 19.372, "type": "quantitative"}, "text": {"value": ["Histogram of multiple variables", "BARDA vs C1_ANC_5-1-17 26v*57c", "BARDA-6Gy, d1 = 49*0.05*Lognormal(Scale=-1.3824, Shape=0.3422)", "C1-6Gy, d1 = 8*0.05*Normal(Location=0.28, Scale=0.0962)"]}}}
]
},
{
"width": 400, "height": 340,
"layer": [
 {"data": {"values": [{}]}, "mark": {"type": "rect", "fill": "#fdf8ea"},
  "encoding": {"x": {"datum": -0.047, "type": "quantitative", "scale": {"domain": [-0.0659, 0.6917], "nice": false, "zero": false}}, "x2": {"datum": 0.6917},
   "y": {"datum": -1.96, "type": "quantitative", "scale": {"domain": [-1.96, 26.23], "nice": false, "zero": false}, "axis": {"values": [2,4,6,8,10,12,14,16,18], "tickCount": 20, "labelOverlap": false, "offset": -48, "zindex": 2, "title": "No of obs", "titleX": -24, "titleY": 208}}, "y2": {"datum": 23.162}}},
 {"data": {"values": [{}]}, "mark": {"type": "rect", "fill": "#ffffff"},
  "encoding": {"x": {"datum": 0.025, "type": "quantitative"}, "x2": {"datum": 0.525}, "y": {"datum": 0, "type": "quantitative"}, "y2": {"datum": 18}}},
 {"data": {"name": "grid16"}, "mark": {"type": "rule", "stroke": "#c9c9c9", "strokeWidth": 1.2},
  "encoding": {"x": {"datum": 0.025, "type": "quantitative"}, "x2": {"datum": 0.525}, "y": {"field": "v", "type": "quantitative"}}},
 {"data": {"name": "edges_p4"}, "mark": {"type": "rule", "stroke": "#222222", "strokeWidth": 1},
  "encoding": {"x": {"field": "e", "type": "quantitative"}, "y": {"datum": 18, "type": "quantitative"}, "y2": {"datum": 17.75}}},
 {"data": {"name": "p5_barda"}, "mark": {"type": "rect", "stroke": "#1d5fd5", "strokeWidth": 1, "xOffset": 2.4, "x2Offset": -13.2},
  "encoding": {"x": {"field": "lo", "type": "quantitative"}, "x2": {"field": "hi"}, "y": {"field": "n", "type": "quantitative"}, "y2": {"datum": 0},
   "fill": {"condition": [
     {"test": "datum.n >= 12", "value": {"gradient": "linear", "x1": 0, "y1": 0, "x2": 0, "y2": 1, "stops": [{"offset": 0, "color": "#1b83ef"}, {"offset": 1, "color": "#d4e7fc"}]}},
     {"test": "datum.n >= 7", "value": {"gradient": "linear", "x1": 0, "y1": 0, "x2": 0, "y2": 1, "stops": [{"offset": 0, "color": "#4d9ff3"}, {"offset": 1, "color": "#d8e9fc"}]}},
     {"test": "datum.n >= 4", "value": {"gradient": "linear", "x1": 0, "y1": 0, "x2": 0, "y2": 1, "stops": [{"offset": 0, "color": "#88bef6"}, {"offset": 1, "color": "#dcebfc"}]}}],
    "value": {"gradient": "linear", "x1": 0, "y1": 0, "x2": 0, "y2": 1, "stops": [{"offset": 0, "color": "#b8d7f9"}, {"offset": 1, "color": "#e3effd"}]}}}},
 {"data": {"name": "p5_c1"}, "mark": {"type": "rect", "fill": "#fde2cf", "stroke": "#cc7834", "strokeWidth": 1, "xOffset": 13.2, "x2Offset": -2.4},
  "encoding": {"x": {"field": "lo", "type": "quantitative"}, "x2": {"field": "hi"}, "y": {"field": "n", "type": "quantitative"}, "y2": {"datum": 0}}},
 {"data": {"name": "p5_barda"}, "mark": {"type": "text", "dx": 7.8, "dy": -2, "baseline": "bottom", "align": "center"},
  "encoding": {"x": {"field": "lo", "type": "quantitative"}, "y": {"field": "n", "type": "quantitative"}, "text": {"field": "label"}}},
 {"data": {"name": "p5_c1"}, "mark": {"type": "text", "dx": 18.6, "dy": -2, "baseline": "bottom", "align": "center"},
  "encoding": {"x": {"field": "lo", "type": "quantitative"}, "y": {"field": "n", "type": "quantitative"}, "text": {"field": "label"}}},
 {"data": {"name": "p5_blue"}, "mark": {"type": "line", "interpolate": "monotone", "stroke": "#1a1aff", "strokeWidth": 1.2},
  "encoding": {"x": {"field": "x", "type": "quantitative"}, "y": {"field": "y", "type": "quantitative"}}},
 {"data": {"name": "p5_red"}, "mark": {"type": "line", "interpolate": "monotone", "stroke": "#ff1a1a", "strokeWidth": 1.2},
  "encoding": {"x": {"field": "x", "type": "quantitative"}, "y": {"field": "y", "type": "quantitative"}}},
 {"data": {"values": [{}]}, "mark": {"type": "rect", "fill": "#ffffff", "fillOpacity": 0, "stroke": "#333333", "strokeWidth": 1},
  "encoding": {"x": {"datum": 0.025, "type": "quantitative"}, "x2": {"datum": 0.525}, "y": {"datum": 0, "type": "quantitative"}, "y2": {"datum": 18}}},
 {"data": {"values": [{}]}, "mark": {"type": "text", "align": "left", "lineHeight": 11},
  "encoding": {"x": {"datum": 0.5704, "type": "quantitative"}, "y": {"datum": -0.22, "type": "quantitative"}, "text": {"value": ["BARDA-6Gy, d2", "C1-6Gy, d2"]}}},
 {"data": {"values": [{}]}, "mark": {"type": "rect", "fill": "#ffffff", "stroke": "#111111", "strokeWidth": 1.5},
  "encoding": {"x": {"datum": -0.0356, "type": "quantitative"}, "x2": {"datum": 0.5647}, "y": {"datum": 0.442, "type": "quantitative"}, "y2": {"datum": -1.714}}},
 {"data": {"values": [{}]}, "mark": {"type": "text", "align": "left", "fontSize": 7.8, "lineHeight": 11},
  "encoding": {"x": {"datum": -0.0267, "type": "quantitative"}, "y": {"datum": -0.387, "type": "quantitative"}, "text": {"value": ["BARDA-6Gy, d2:\u00a0\u00a0 N = 43, Mean = 0.24, StdDv = 0.0788, Max = 0.44, Min = 0.1", "C1-6Gy, d2:\u00a0\u00a0 N = 8, Mean = 0.3475, StdDv = 0.0985, Max = 0.46, Min = 0.2"]}}},
 {"data": {"values": [{}]}, "mark": {"type": "text", "align": "center", "font": "Liberation Serif", "fontSize": 23, "fontWeight": "bold", "color": "#000000"},
  "encoding": {"x": {"datum": 0.3034, "type": "quantitative"}, "y": {"datum": 22.747, "type": "quantitative"}, "text": {"value": "ANC, 6Gy, d2"}}},
 {"data": {"values": [{}]}, "mark": {"type": "text", "align": "center", "lineHeight": 12.7},
  "encoding": {"x": {"datum": 0.3318, "type": "quantitative"}, "y": {"datum": 21.835, "type": "quantitative"}, "text": {"value": ["Histogram of multiple variables", "BARDA vs C1_ANC_5-1-17 26v*57c", "BARDA-6Gy, d2 = 43*0.05*Normal(Location=0.24, Scale=0.0788)", "C1-6Gy, d2 = 8*0.05*Normal(Location=0.3475, Scale=0.0985)"]}}}
]
},
{
"width": 422, "height": 340,
"layer": [
 {"data": {"values": [{}]}, "mark": {"type": "rect", "fill": "#fdf8ea"},
  "encoding": {"x": {"datum": -0.0418, "type": "quantitative", "scale": {"domain": [-0.0444, 0.328], "nice": false, "zero": false}}, "x2": {"datum": 0.3174},
   "y": {"datum": -1.27, "type": "quantitative", "scale": {"domain": [-1.27, 18.58], "nice": false, "zero": false}, "axis": {"values": [2,4,6,8,10,12], "tickCount": 20, "labelOverlap": false, "offset": -39, "zindex": 2, "title": "No of obs", "titleX": -25, "titleY": 215.5}}, "y2": {"datum": 15.544}}},
 {"data": {"values": [{}]}, "mark": {"type": "rect", "fill": "#ffffff"},
  "encoding": {"x": {"datum": -0.01, "type": "quantitative"}, "x2": {"datum": 0.23}, "y": {"datum": 0, "type": "quantitative"}, "y2": {"datum": 12}}},
 {"data": {"name": "grid10"}, "mark": {"type": "rule", "stroke": "#c9c9c9", "strokeWidth": 1.2},
  "encoding": {"x": {"datum": -0.01, "type": "quantitative"}, "x2": {"datum": 0.23}, "y": {"field": "v", "type": "quantitative"}}},
 {"data": {"name": "edges_p6"}, "mark": {"type": "rule", "stroke": "#222222", "strokeWidth": 1},
  "encoding": {"x": {"field": "e", "type": "quantitative"}, "y": {"datum": 12, "type": "quantitative"}, "y2": {"datum": 11.825}}},
 {"data": {"name": "p6_barda"}, "mark": {"type": "rect", "stroke": "#1d5fd5", "strokeWidth": 1, "xOffset": 2.0, "x2Offset": -11.3},
  "encoding": {"x": {"field": "lo", "type": "quantitative"}, "x2": {"field": "hi"}, "y": {"field": "n", "type": "quantitative"}, "y2": {"datum": 0},
   "fill": {"condition": [
     {"test": "datum.n >= 9", "value": {"gradient": "linear", "x1": 0, "y1": 0, "x2": 0, "y2": 1, "stops": [{"offset": 0, "color": "#1b83ef"}, {"offset": 1, "color": "#d4e7fc"}]}},
     {"test": "datum.n >= 6", "value": {"gradient": "linear", "x1": 0, "y1": 0, "x2": 0, "y2": 1, "stops": [{"offset": 0, "color": "#4d9ff3"}, {"offset": 1, "color": "#d8e9fc"}]}},
     {"test": "datum.n >= 3", "value": {"gradient": "linear", "x1": 0, "y1": 0, "x2": 0, "y2": 1, "stops": [{"offset": 0, "color": "#88bef6"}, {"offset": 1, "color": "#dcebfc"}]}}],
    "value": {"gradient": "linear", "x1": 0, "y1": 0, "x2": 0, "y2": 1, "stops": [{"offset": 0, "color": "#b8d7f9"}, {"offset": 1, "color": "#e3effd"}]}}}},
 {"data": {"name": "p6_c1"}, "mark": {"type": "rect", "fill": "#fde2cf", "stroke": "#cc7834", "strokeWidth": 1, "xOffset": 11.3, "x2Offset": -2.0},
  "encoding": {"x": {"field": "lo", "type": "quantitative"}, "x2": {"field": "hi"}, "y": {"field": "n", "type": "quantitative"}, "y2": {"datum": 0}}},
 {"data": {"name": "p6_barda"}, "mark": {"type": "text", "dx": 6.7, "dy": -2, "baseline": "bottom", "align": "center"},
  "encoding": {"x": {"field": "lo", "type": "quantitative"}, "y": {"field": "n", "type": "quantitative"}, "text": {"field": "label"}}},
 {"data": {"name": "p6_c1"}, "mark": {"type": "text", "dx": 16.0, "dy": -2, "baseline": "bottom", "align": "center"},
  "encoding": {"x": {"field": "lo", "type": "quantitative"}, "y": {"field": "n", "type": "quantitative"}, "text": {"field": "label"}}},
 {"data": {"name": "p6_blue"}, "mark": {"type": "line", "interpolate": "monotone", "stroke": "#1a1aff", "strokeWidth": 1.2},
  "encoding": {"x": {"field": "x", "type": "quantitative"}, "y": {"field": "y", "type": "quantitative"}}},
 {"data": {"name": "p6_red"}, "mark": {"type": "line", "interpolate": "monotone", "stroke": "#ff1a1a", "strokeWidth": 1.2},
  "encoding": {"x": {"field": "x", "type": "quantitative"}, "y": {"field": "y", "type": "quantitative"}}},
 {"data": {"values": [{}]}, "mark": {"type": "rect", "fill": "#ffffff", "fillOpacity": 0, "stroke": "#333333", "strokeWidth": 1},
  "encoding": {"x": {"datum": -0.01, "type": "quantitative"}, "x2": {"datum": 0.23}, "y": {"datum": 0, "type": "quantitative"}, "y2": {"datum": 12}}},
 {"data": {"values": [{}]}, "mark": {"type": "text", "align": "left", "lineHeight": 11},
  "encoding": {"x": {"datum": 0.253, "type": "quantitative"}, "y": {"datum": -0.16, "type": "quantitative"}, "text": {"value": ["BARDA-6Gy, d7", "C1-6Gy, d7"]}}},
 {"data": {"values": [{}]}, "mark": {"type": "rect", "fill": "#ffffff", "stroke": "#111111", "strokeWidth": 1.5},
  "encoding": {"x": {"datum": -0.04, "type": "quantitative"}, "x2": {"datum": 0.2583}, "y": {"datum": 0.308, "type": "quantitative"}, "y2": {"datum": -1.093}}},
 {"data": {"values": [{}]}, "mark": {"type": "text", "align": "left", "fontSize": 8, "lineHeight": 11},
  "encoding": {"x": {"datum": -0.0356, "type": "quantitative"}, "y": {"datum": -0.276, "type": "quantitative"}, "text": {"value": ["BARDA-6Gy, d7:\u00a0\u00a0 N = 45, Mean = 0.0876, StdDv = 0.0398, Max = 0.2, Min = 0.02", "C1-6Gy, d7:\u00a0\u00a0 N = 8, Mean = 0.105, StdDv = 0.0463, Max = 0.16, Min = 0.06"]}}},
 {"data": {"values": [{}]}, "mark": {"type": "text", "align": "center", "font": "Liberation Serif", "fontSize": 23, "fontWeight": "bold", "color": "#000000"},
  "encoding": {"x": {"datum": 0.1215, "type": "quantitative"}, "y": {"datum": 16.087, "type": "quantitative"}, "text": {"value": "ANC, 6Gy, d7"}}},
 {"data": {"values": [{}]}, "mark": {"type": "text", "align": "center", "lineHeight": 12.3},
  "encoding": {"x": {"datum": 0.1374, "type": "quantitative"}, "y": {"datum": 14.651, "type": "quantitative"}, "text": {"value": ["Histogram of multiple variables", "BARDA vs C1_ANC_5-1-17 26v*57c", "BARDA-6Gy, d7 = 45*0.02*Normal(Location=0.0876, Scale=0.0398)", "C1-6Gy, d7 = 8*0.02*Normal(Location=0.105, Scale=0.0463)"]}}}
]
}
]
}
